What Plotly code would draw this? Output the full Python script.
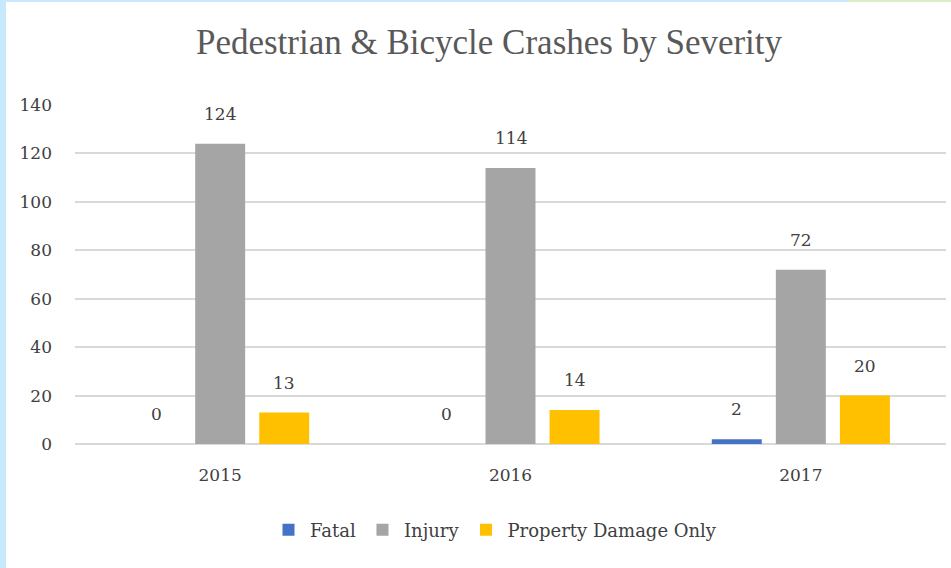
import plotly.graph_objects as go

years = ["2015", "2016", "2017"]
fatal = [0, 0, 2]
injury = [124, 114, 72]
pdo = [13, 14, 20]
series_names = ["Fatal", "Injury", "Property Damage Only"]
series_colors = ["#4472C4", "#A5A5A5", "#FFC000"]
y_ticks = [0, 20, 40, 60, 80, 100, 120, 140]

W, H = 951, 568
ML, MR, MT, MB = 75, 5, 105, 124
PW = W - ML - MR
PH = H - MT - MB
FONT = "DejaVu Serif"
TFONT = "Liberation Serif"

fig = go.Figure()
series = [fatal, injury, pdo]
for name, vals, col in zip(series_names, series, series_colors):
    fig.add_trace(go.Bar(
        x=years, y=vals, name=name, marker=dict(color=col, line=dict(width=0)),
    ))

bargap = 0.338
bargroupgap = 0.22
slot = PW / len(years) * (1 - bargap) / 3
offsets = [-slot, 0, slot]
annotations = []
for vals, off in zip(series, offsets):
    for i, v in enumerate(vals):
        annotations.append(dict(
            x=i, y=v, xref="x", yref="y", text=str(v), showarrow=False,
            xshift=off, yshift=30, yanchor="middle",
            font=dict(family=FONT, size=17, color="#404040"),
        ))

def px_x(p):
    return (p - ML) / PW

def px_y(p):
    return (MT + PH - p) / PH

shapes = [
    dict(type="rect", xref="paper", yref="paper", x0=px_x(0), x1=px_x(6),
         y0=px_y(H), y1=px_y(0), fillcolor="#C8E9FB", line=dict(width=0), layer="above"),
    dict(type="rect", xref="paper", yref="paper", x0=px_x(0), x1=px_x(848),
         y0=px_y(2), y1=px_y(0), fillcolor="#C8E9FB", line=dict(width=0), layer="above"),
    dict(type="rect", xref="paper", yref="paper", x0=px_x(848), x1=px_x(W),
         y0=px_y(2), y1=px_y(0), fillcolor="#DCEEC8", line=dict(width=0), layer="above"),
]

fig.update_layout(
    width=W, height=H,
    margin=dict(l=ML, r=MR, t=MT, b=MB, autoexpand=False),
    paper_bgcolor="white", plot_bgcolor="white",
    barmode="group", bargap=bargap, bargroupgap=bargroupgap,
    title=dict(text="Pedestrian & Bicycle Crashes by Severity", x=px_x(489), xref="paper",
               xanchor="center", y=1 - 42 / H, yanchor="middle",
               font=dict(family=TFONT, size=35, color="#595959")),
    font=dict(family=FONT, color="#595959"),
    xaxis=dict(type="category", categoryorder="array", categoryarray=years,
               range=[-0.5, len(years) - 0.5], showgrid=False, showline=False, ticks="",
               tickfont=dict(size=17, color="#404040"), ticklabelstandoff=19),
    yaxis=dict(range=[0, 140], tickvals=y_ticks, showgrid=True, gridcolor="#D9D9D9",
               gridwidth=1.5, zeroline=True, zerolinecolor="#D9D9D9", zerolinewidth=1.5,
               tickfont=dict(size=17, color="#404040"), ticklabelstandoff=22, ticks=""),
    legend=dict(orientation="h", x=px_x(494.5), xanchor="center", y=px_y(530), yanchor="middle",
                font=dict(family=FONT, size=18, color="#404040"), itemwidth=33,
                tracegroupgap=0),
    annotations=annotations,
    shapes=shapes,
)

fig.write_html("out.html", config={"displayModeBar": False},
               post_script="document.body.style.margin='0px';")
